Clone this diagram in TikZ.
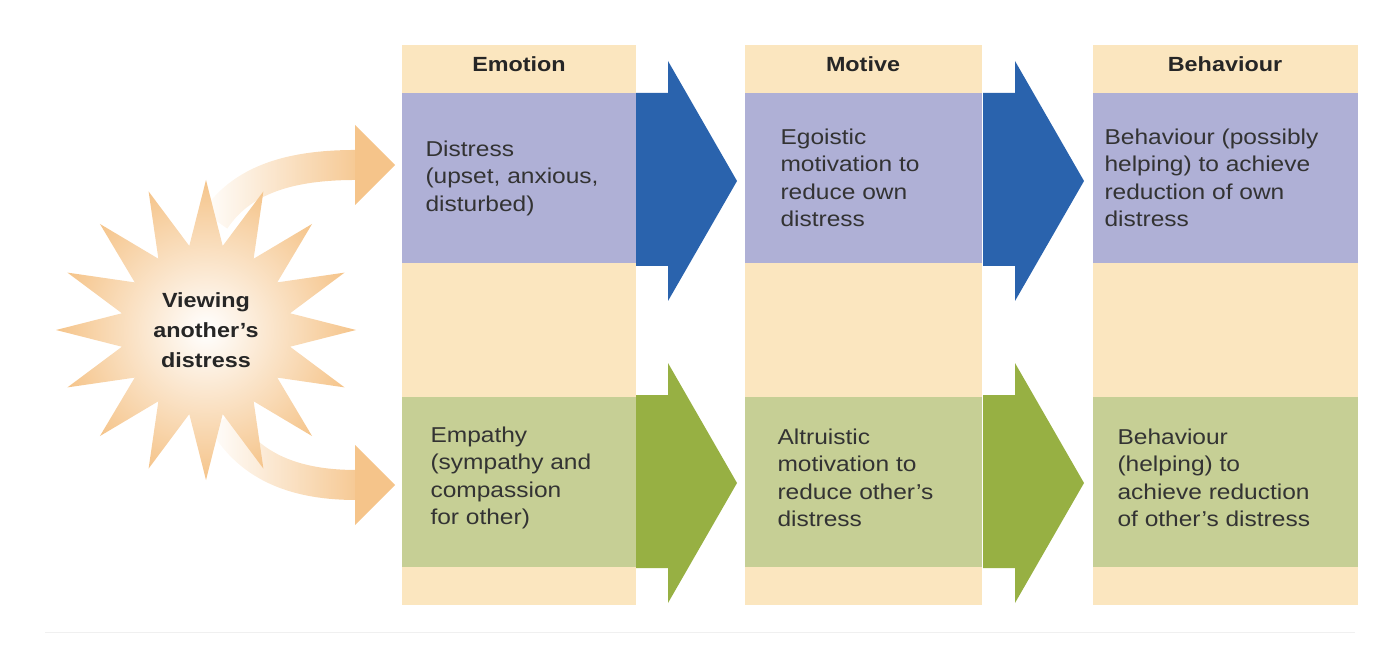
\documentclass[tikz,border=0pt]{standalone}
\usepackage{fontspec}
\setmainfont{Liberation Sans}[FakeStretch=1.14]
\usetikzlibrary{shapes.geometric,positioning,fadings}
\definecolor{cream}{HTML}{FBE6BF}
\definecolor{lilac}{HTML}{AFB0D6}
\definecolor{sage}{HTML}{C6CF95}
\definecolor{deepblue}{HTML}{2A63AD}
\definecolor{olive}{HTML}{97B043}
\definecolor{peach}{HTML}{F5C48A}
\begin{document}
\begin{tikzpicture}[
  x=1pt, y=-1pt,
  column/.style = {fill=cream, draw=none},
  band/.style = {draw=none},
  head/.style = {font=\fontsize{20.5}{26}\selectfont\bfseries, text=black!85},
  body/.style = {anchor=west, align=left, text=black!80,
    font=\fontsize{21.5}{27.5}\selectfont},
  bigarrow/.style = {draw=none},
  swoosh/.style = {draw=peach, line width=30pt},
]
  \useasboundingbox (0,0) rectangle (1400,652);
  % columns
  \fill[column] (402,45) rectangle (636,605);
  \fill[column] (745,45) rectangle (982,605);
  \fill[column] (1093,45) rectangle (1358,605);
  \foreach \xa/\xb in {402/636, 745/982, 1093/1358} {
    \fill[band, lilac] (\xa,93) rectangle (\xb,263);
    \fill[band, sage] (\xa,397) rectangle (\xb,567);
  }
  % headers
  \node[head] (emotion) at (519,64) {Emotion};
  \node[head] (motive) at (863,64) {Motive};
  \node[head] (behaviour) at (1225,64) {Behaviour};
  % arrows between columns
  \foreach \xa/\ym/\col in {636/181/deepblue, 983/181/deepblue, 636/483/olive, 983/483/olive} {
    \fill[bigarrow, \col] (\xa,\ym-88) -- (\xa+32,\ym-88) -- (\xa+32,\ym-120)
      -- (\xa+101,\ym) -- (\xa+32,\ym+120) -- (\xa+32,\ym+85) -- (\xa,\ym+85) -- cycle;
  }
  % texts
  \node[body] (distress) at (422,178) {Distress\\(upset, anxious,\\disturbed)};
  \node[body] (egoistic) at (777,178) {Egoistic\\motivation to\\reduce own\\distress};
  \node[body] (ownhelp) at (1101,178) {Behaviour (possibly\\helping) to achieve\\reduction of own\\distress};
  \node[body] (empathy) at (427,478) {Empathy\\(sympathy and\\compassion\\for other)};
  \node[body] (altruistic) at (774,478) {Altruistic\\motivation to\\reduce other’s\\distress};
  \node[body] (otherhelp) at (1114,478) {Behaviour\\(helping) to\\achieve reduction\\of other’s distress};
  % curved arrows
  \coordinate (uptip) at (395,165);
  \coordinate (lowtip) at (395,485);
  \draw[swoosh, path fading=west] (215,220) .. controls (245,175) and (300,165) .. (356,165);
  \fill[peach] (355,125) -- (uptip) -- (355,205) -- cycle;
  \draw[swoosh, path fading=west] (222,420) .. controls (250,470) and (300,485) .. (356,485);
  \fill[peach] (355,445) -- (lowtip) -- (355,525) -- cycle;
  % starburst
  \node[star, star points=16, star point ratio=1.75, minimum size=300pt,
    inner color=white, outer color=peach, draw=none, align=center,
    font=\fontsize{20.5}{30}\selectfont\bfseries, text=black!85] (view) at (206,330)
    {Viewing\\another’s\\distress};
  % rule
  \draw[black!6, line width=1pt] (45,632) -- (1355,632);
\end{tikzpicture}
\end{document}
